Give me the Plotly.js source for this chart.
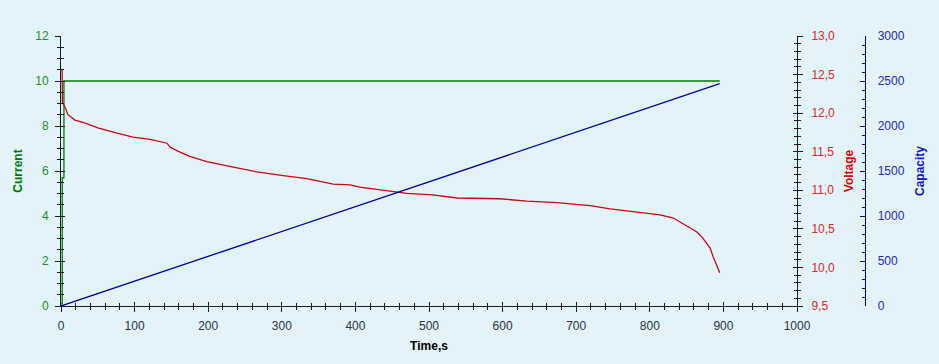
<!DOCTYPE html>
<html>
<head>
<meta charset="utf-8">
<script src="https://cdn.plot.ly/plotly-3.0.1.min.js"></script>
<style>html,body{margin:0;padding:0;background:#e2f3fa;}</style>
</head>
<body>
<div id="chart" style="width:939px;height:364px;"></div>
<script>
// Current (A) vs time (s)
var currentTime = [0, 1.7, 4, 895];
var currentValues = [0.1, 5.7, 10, 10];

// Capacity (mAh) vs time (s)
var capacityTime = [0, 458, 895];
var capacityValues = [0, 1267, 2470];

// Voltage (V) vs time (s)
var voltageTime = [0.5, 1.5, 2, 5.4, 9.5, 19, 33, 50, 76, 98, 121, 144, 148, 158, 175, 198, 234, 266, 302, 334, 370, 393, 406, 437, 470, 505, 538, 596, 633, 674, 696, 719, 746, 777, 814, 832, 841, 855, 864, 872, 882, 886, 891, 895];
var voltageValues = [12.56, 12.56, 12.14, 12.08, 11.98, 11.91, 11.87, 11.81, 11.74, 11.69, 11.66, 11.61, 11.56, 11.51, 11.44, 11.37, 11.30, 11.24, 11.19, 11.15, 11.08, 11.07, 11.04, 11.00, 10.96, 10.94, 10.90, 10.89, 10.86, 10.84, 10.82, 10.80, 10.76, 10.72, 10.68, 10.64, 10.59, 10.52, 10.46, 10.38, 10.25, 10.14, 10.03, 9.93];

var bg = '#e2f3fa';
var font = 'Liberation Sans, Arial, sans-serif';
var axc = '#1a1a2a';
var capc = 'rgb(0,0,160)';
var dom = [0, 736 / 804];

var traces = [
  {x: currentTime, y: currentValues, type: 'scatter', mode: 'lines', name: 'Current',
   line: {color: 'rgb(0,128,0)', width: 1.3, shape: 'hv'}, xaxis: 'x', yaxis: 'y'},
  {x: voltageTime, y: voltageValues, type: 'scatter', mode: 'lines', name: 'Voltage',
   line: {color: 'rgb(210,0,20)', width: 1.3}, xaxis: 'x', yaxis: 'y2'},
  {x: capacityTime, y: capacityValues, type: 'scatter', mode: 'lines', name: 'Capacity',
   line: {color: capc, width: 1.3}, xaxis: 'x', yaxis: 'y3'},
  // invisible helpers so the inner-tick overlay axes get drawn
  {x: currentTime, y: currentValues, type: 'scatter', mode: 'lines', opacity: 0, hoverinfo: 'skip',
   line: {width: 0}, xaxis: 'x2', yaxis: 'y4', showlegend: false},
  {x: voltageTime, y: voltageValues, type: 'scatter', mode: 'lines', opacity: 0, hoverinfo: 'skip',
   line: {width: 0}, xaxis: 'x2', yaxis: 'y5', showlegend: false}
];

var layout = {
  width: 939, height: 364,
  paper_bgcolor: bg, plot_bgcolor: bg,
  showlegend: false,
  margin: {l: 61, r: 74, t: 36, b: 58},
  font: {family: font, size: 12},
  separators: ',.',
  xaxis: {
    domain: dom, anchor: 'y',
    range: [0, 1000], dtick: 100, tick0: 0, showgrid: false, zeroline: false,
    showline: true, linecolor: axc, linewidth: 1,
    ticks: 'outside', ticklen: 5, tickcolor: axc, tickwidth: 1,
    minor: {dtick: 20, ticks: 'outside', ticklen: 3, tickcolor: axc},
    tickfont: {family: font, size: 12, color: '#2a3348'},
    ticklabelstandoff: 4,
    title: {text: 'Time,s', font: {family: font, size: 12, color: '#000', weight: 'bold'}, standoff: 9}
  },
  xaxis2: {
    domain: dom, overlaying: 'x', matches: 'x', anchor: 'y', side: 'bottom', range: [0, 1000], dtick: 100, tick0: 0,
    showgrid: false, zeroline: false, showline: false, showticklabels: false,
    ticks: 'inside', ticklen: 4, tickcolor: axc,
    minor: {dtick: 20, ticks: 'inside', ticklen: 3, tickcolor: axc}
  },
  yaxis: {
    anchor: 'x',
    range: [0, 12], dtick: 2, tick0: 0, showgrid: false, zeroline: false,
    showline: true, linecolor: axc, linewidth: 1,
    ticks: 'outside', ticklen: 5, tickcolor: axc,
    minor: {dtick: 0.5, ticks: 'outside', ticklen: 3, tickcolor: axc},
    tickfont: {family: font, size: 12, color: 'rgb(40,140,40)'},
    ticklabelstandoff: 4,
    title: {text: 'Current', font: {family: font, size: 12, color: 'rgb(0,120,0)', weight: 'bold'}, standoff: 10}
  },
  yaxis4: {
    overlaying: 'y', matches: 'y', anchor: 'x', side: 'left', range: [0, 12], dtick: 2, tick0: 0,
    showgrid: false, zeroline: false, showline: false, showticklabels: false,
    ticks: 'inside', ticklen: 4, tickcolor: axc,
    minor: {dtick: 0.5, ticks: 'inside', ticklen: 3, tickcolor: axc}
  },
  yaxis2: {
    overlaying: 'y', anchor: 'x', side: 'right', range: [9.5, 13], dtick: 0.5, tick0: 9.5,
    showgrid: false, zeroline: false, showline: true, linecolor: axc, linewidth: 1,
    ticks: 'outside', ticklen: 5, tickcolor: axc,
    minor: {dtick: 0.1, ticks: 'outside', ticklen: 3, tickcolor: axc},
    tickformat: '.1f',
    tickfont: {family: font, size: 12, color: 'rgb(220,40,40)'},
    ticklabelstandoff: 6,
    title: {text: 'Voltage', font: {family: font, size: 12, color: 'rgb(220,0,0)', weight: 'bold'}, standoff: 10}
  },
  yaxis5: {
    overlaying: 'y', matches: 'y2', anchor: 'x', side: 'right', range: [9.5, 13], dtick: 0.5, tick0: 9.5,
    showgrid: false, zeroline: false, showline: false, showticklabels: false,
    ticks: 'inside', ticklen: 4, tickcolor: axc,
    minor: {dtick: 0.1, ticks: 'inside', ticklen: 3, tickcolor: axc}
  },
  yaxis3: {
    overlaying: 'y', anchor: 'free', side: 'right', position: 1, range: [0, 3000], dtick: 500, tick0: 0,
    showgrid: false, zeroline: false, showline: true, linecolor: capc, linewidth: 1.3,
    ticks: 'inside', ticklen: 5, tickcolor: capc,
    minor: {dtick: 100, ticks: 'inside', ticklen: 3, tickcolor: capc},
    tickfont: {family: font, size: 12, color: 'rgb(40,40,200)'},
    ticklabelstandoff: 9,
    title: {text: 'Capacity', font: {family: font, size: 12, color: 'rgb(20,20,200)', weight: 'bold'}, standoff: 12}
  }
};

Plotly.newPlot('chart', traces, layout, {staticPlot: true, displayModeBar: false});
</script>
</body>
</html>
